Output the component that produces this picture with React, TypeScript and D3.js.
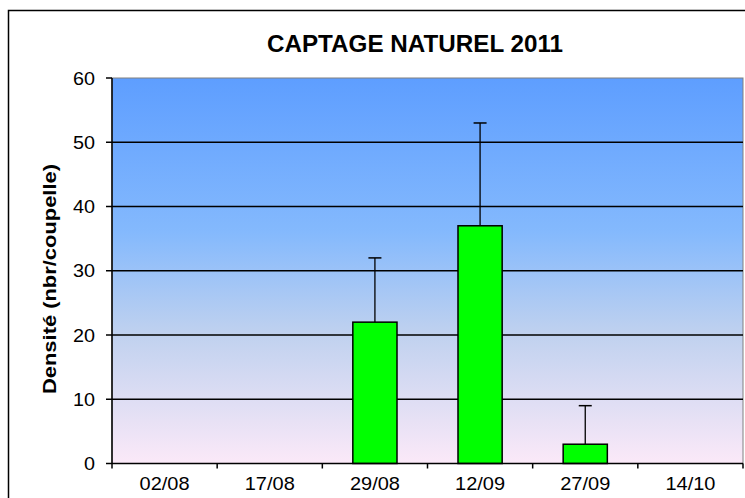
import React from "react";
import * as d3 from "d3";

// captage naturel 2011 - densite par date
const dates = ["02/08", "17/08", "29/08", "12/09", "27/09", "14/10"];
const densite = [0, 0, 22, 37, 3, 0];
const ecart = [0, 0, 10, 16, 6, 0];
const yTicks = [0, 10, 20, 30, 40, 50, 60];

const W = 745;
const H = 498;
const margin = { top: 78, right: 2, bottom: 34.5, left: 112 };

export default function App() {
  const innerW = W - margin.left - margin.right;
  const innerH = H - margin.top - margin.bottom;

  const x = d3.scaleBand().domain(dates).range([0, innerW]).paddingInner(0.58).paddingOuter(0.29);
  const y = d3.scaleLinear().domain([0, 60]).range([innerH, 0]);
  const step = x.step();

  return (
    <svg
      width={W}
      height={H}
      style={{ position: "absolute", left: 0, top: 0, fontFamily: "'Liberation Sans', Arial, sans-serif" }}
    >
      <defs>
        <linearGradient id="fond" x1="0" y1="0" x2="0" y2="1">
          <stop offset="0%" stopColor="#5e9eff" />
          <stop offset="40%" stopColor="#84b9fd" />
          <stop offset="66%" stopColor="#bfd1ef" />
          <stop offset="100%" stopColor="#fbe9f8" />
        </linearGradient>
      </defs>
      <rect x={8.5} y={10.5} width={W + 10} height={H + 10} fill="#fff" stroke="#000" strokeWidth={1.5} />

      <text x={415} y={52} textAnchor="middle" fontWeight="bold" fontSize={23} textLength={296} lengthAdjust="spacingAndGlyphs">
        CAPTAGE NATUREL 2011
      </text>

      <text
        transform={`translate(56,279) rotate(-90)`}
        textAnchor="middle"
        fontWeight="bold"
        fontSize={17.5}
        textLength={230}
        lengthAdjust="spacingAndGlyphs"
      >
        Densité (nbr/coupelle)
      </text>

      <g transform={`translate(${margin.left},${margin.top})`}>
        <rect width={innerW} height={innerH} fill="url(#fond)" stroke="#808080" strokeWidth={1} />

        {yTicks.slice(1, -1).map((t) => (
          <line key={t} x1={0} x2={innerW} y1={y(t)} y2={y(t)} stroke="#000" strokeWidth={1.5} />
        ))}

        {dates.map((d, i) => {
          const bx = x(d)!;
          const bw = x.bandwidth();
          const cx = bx + bw / 2;
          const v = densite[i];
          if (v === 0) return null;
          return (
            <g key={d}>
              <line x1={cx} x2={cx} y1={y(v)} y2={y(v + ecart[i])} stroke="#000" strokeWidth={1.3} />
              <line x1={cx - 6.5} x2={cx + 6.5} y1={y(v + ecart[i])} y2={y(v + ecart[i])} stroke="#000" strokeWidth={1.5} />
              <rect x={bx} y={y(v)} width={bw} height={y(0) - y(v)} fill="#00ff00" stroke="#000" strokeWidth={1.5} />
            </g>
          );
        })}

        {/* axe y */}
        <line x1={0} x2={0} y1={0} y2={innerH} stroke="#000" strokeWidth={1.5} />
        {yTicks.map((t) => (
          <g key={t} transform={`translate(0,${y(t)})`}>
            <line x1={-6} x2={0} stroke="#000" strokeWidth={1.5} />
            <text
              x={-17}
              dy="0.36em"
              textAnchor="end"
              fontSize={18.5}
              textLength={t === 0 ? 11 : 22}
              lengthAdjust="spacingAndGlyphs"
            >
              {t}
            </text>
          </g>
        ))}

        {/* axe x */}
        <line x1={0} x2={innerW} y1={innerH} y2={innerH} stroke="#000" strokeWidth={1.5} />
        {d3.range(dates.length + 1).map((i) => (
          <line key={i} x1={i * step} x2={i * step} y1={innerH} y2={innerH + 5} stroke="#000" strokeWidth={1.5} />
        ))}
        {dates.map((d) => (
          <text
            key={d}
            x={x(d)! + x.bandwidth() / 2}
            y={innerH + 26.5}
            textAnchor="middle"
            fontSize={18.5}
            textLength={50}
            lengthAdjust="spacingAndGlyphs"
          >
            {d}
          </text>
        ))}
      </g>
    </svg>
  );
}
